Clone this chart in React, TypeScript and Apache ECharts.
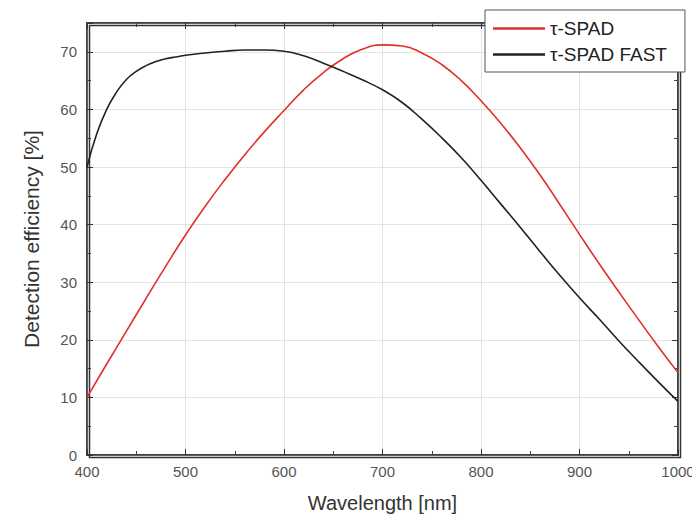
import React, { useEffect, useRef } from "react";
import * as echarts from "echarts";

const redX = [400, 420, 440, 460, 480, 500, 520, 540, 560, 580, 600, 620, 640, 660, 680, 700, 720, 740, 760, 780, 800, 820, 840, 860, 880, 900, 920, 940, 960, 980, 1000];
const tauSpad = [10, 15.8, 21.5, 27.2, 32.8, 38.2, 43.2, 47.8, 52.1, 56.1, 59.8, 63.4, 66.4, 68.8, 70.5, 71.2, 71, 69.8, 67.8, 65, 61.5, 57.6, 53.3, 48.6, 43.5, 38.3, 33.2, 28.3, 23.5, 18.8, 14.3];
const blackX = [400, 410, 420, 430, 440, 450, 460, 470, 480, 490, 500, 520, 540, 560, 580, 600, 620, 640, 660, 680, 700, 720, 740, 760, 780, 800, 820, 840, 860, 880, 900, 920, 940, 960, 980, 1000];
const tauSpadFast = [50, 55.8, 60, 63, 65.2, 66.6, 67.6, 68.3, 68.8, 69.1, 69.4, 69.8, 70.1, 70.3, 70.3, 70.1, 69.3, 68, 66.6, 65.1, 63.4, 61.2, 58.3, 55.1, 51.6, 47.7, 43.6, 39.5, 35.3, 31.2, 27.3, 23.6, 19.8, 16.2, 12.7, 9.3];
const seriesNames = ["τ-SPAD", "τ-SPAD FAST"];
const xTicks = { min: 400, max: 1000, interval: 100 };
const yTicks = { min: 0, max: 75, interval: 10 };

export default function App() {
  const ref = useRef<HTMLDivElement>(null);
  useEffect(() => {
    if (!ref.current) return;
    const chart = echarts.init(ref.current, null, { renderer: "svg" });
    const font = "Liberation Sans";
    const pairs = (xs: number[], ys: number[]) => xs.map((x, i) => [x, ys[i]]);
    const mkLine = () => ({ show: true, onZero: false, lineStyle: { color: "#333", width: 1.5 } });
    const mkTick = () => ({ show: true, inside: true, length: 6, lineStyle: { color: "#333", width: 1 } });
    const mkMinor = () => ({ show: true, splitNumber: 2, length: 4, lineStyle: { color: "#444", width: 1 } });
    const G = { left: 79, top: 15, right: 30, bottom: 71 };
    chart.setOption({
      animation: false,
      backgroundColor: "#fff",
      textStyle: { fontFamily: font },
      grid: { ...G, show: true, borderColor: "#333", borderWidth: 1.5 },
      legend: {
        show: true,
        orient: "vertical",
        left: 477,
        top: 2,
        padding: [9, 18, 8, 8],
        itemGap: 7,
        itemWidth: 52,
        itemHeight: 14,
        backgroundColor: "#fff",
        borderColor: "#555",
        borderWidth: 1,
        borderRadius: 0,
        icon: "path://M0,0 L1,0 L1,0.05 L0,0.05 Z",
        textStyle: { fontSize: 19, color: "#222", fontFamily: font },
        data: seriesNames,
      },
      xAxis: [
        {
          type: "value",
          min: xTicks.min,
          max: xTicks.max,
          interval: xTicks.interval,
          name: "Wavelength [nm]",
          nameLocation: "middle",
          nameGap: 38,
          nameTextStyle: { fontSize: 20, color: "#333", fontFamily: font },
          axisLine: mkLine(),
          axisTick: mkTick(),
          minorTick: mkMinor(),
          axisLabel: { fontSize: 15, color: "#555", margin: 9, fontFamily: font, formatter: (v: number) => String(v) },
          splitLine: { show: true, lineStyle: { color: "#e4e4e4", width: 1 } },
        },
        {
          type: "value",
          position: "top",
          min: xTicks.min,
          max: xTicks.max,
          interval: xTicks.interval,
          axisLine: mkLine(),
          axisTick: mkTick(),
          minorTick: mkMinor(),
          axisLabel: { show: false },
          splitLine: { show: false },
        },
      ],
      yAxis: [
        {
          type: "value",
          min: yTicks.min,
          max: yTicks.max,
          interval: yTicks.interval,
          name: "Detection efficiency [%]",
          nameLocation: "middle",
          nameGap: 45,
          nameTextStyle: { fontSize: 21, color: "#333", fontFamily: font },
          axisLine: mkLine(),
          axisTick: mkTick(),
          minorTick: mkMinor(),
          axisLabel: {
            fontSize: 15,
            color: "#555",
            margin: 10,
            fontFamily: font,
            formatter: (v: number) => (v % 10 === 0 ? String(v) : ""),
          },
          splitLine: { show: true, lineStyle: { color: "#e4e4e4", width: 1 } },
        },
        {
          type: "value",
          position: "right",
          min: yTicks.min,
          max: yTicks.max,
          interval: yTicks.interval,
          axisLine: mkLine(),
          axisTick: mkTick(),
          minorTick: mkMinor(),
          axisLabel: { show: false },
          splitLine: { show: false },
        },
      ],
      graphic: [
        {
          type: "rect",
          left: G.left,
          top: G.top,
          shape: { width: 700 - G.left - G.right, height: 518 - G.top - G.bottom },
          style: { fill: "none", stroke: "#333", lineWidth: 1.5 },
          silent: true,
          z: 1,
        },
      ],
      series: [
        {
          name: seriesNames[0],
          type: "line",
          data: pairs(redX, tauSpad),
          smooth: 0.5,
          showSymbol: false,
          symbol: "none",
          color: "#e0302c",
          lineStyle: { color: "#e0302c", width: 1.6 },
        },
        {
          name: seriesNames[1],
          type: "line",
          data: pairs(blackX, tauSpadFast),
          smooth: 0.5,
          showSymbol: false,
          symbol: "none",
          color: "#222",
          lineStyle: { color: "#222", width: 1.6 },
        },
      ],
    });
    return () => chart.dispose();
  }, []);
  return <div ref={ref} style={{ width: 700, height: 518 }} />;
}
